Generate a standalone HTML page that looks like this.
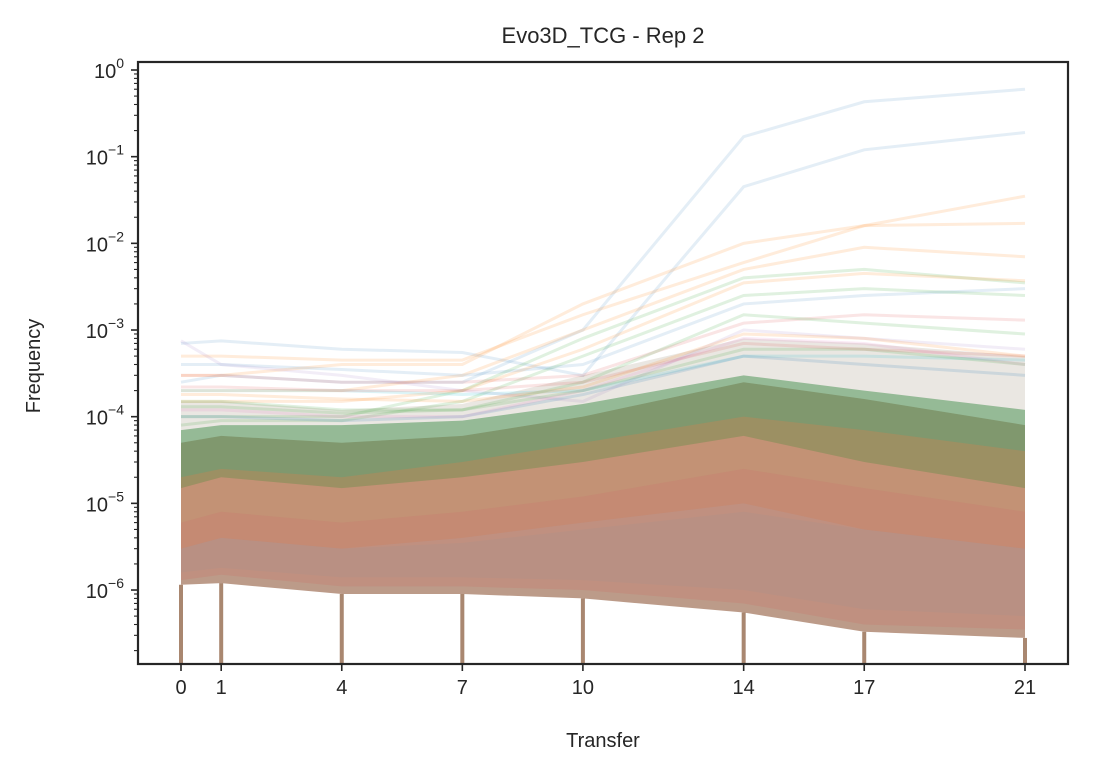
<!DOCTYPE html>
<html><head><meta charset="utf-8">
<style>
body{margin:0;background:#fff;font-family:"Liberation Sans",sans-serif;}
svg text{font-family:"Liberation Sans",sans-serif;fill:#262626;}
</style></head>
<body>
<svg id="chart" width="1094" height="774"></svg>
<script>
const transfers=[0,1,4,7,10,14,17,21];
const xTickLabels=["0","1","4","7","10","14","17","21"];
const yTickExps=[0,-1,-2,-3,-4,-5,-6];
// dense band layers: [top, bottom] per transfer
const bandBaseTop=[5e-5,6e-5,5e-5,6e-5,1e-4,2.5e-4,1.6e-4,8e-5];
const bandBaseBot=[1.15e-6,1.2e-6,9e-7,9e-7,8e-7,5.5e-7,3.3e-7,2.8e-7];
const bandPaleTop=[1.5e-4,1.5e-4,1.2e-4,1.4e-4,3e-4,8e-4,7e-4,5e-4];
const bandGreenTop=[7e-5,8e-5,8e-5,9e-5,1.4e-4,3e-4,2e-4,1.2e-4];
const bandGreenBot=[1.5e-5,2e-5,1.5e-5,2e-5,3e-5,6e-5,3e-5,1.5e-5];
const bandOrangeTop=[2e-5,2.5e-5,2e-5,3e-5,5e-5,1e-4,7e-5,4e-5];
const bandOrangeBot=[3e-6,4e-6,3e-6,4e-6,6e-6,1e-5,5e-6,3e-6];
const bandRedTop=[6e-6,8e-6,6e-6,8e-6,1.2e-5,2.5e-5,1.5e-5,8e-6];
const bandRedBot=[1.3e-6,1.5e-6,1.1e-6,1.1e-6,1e-6,7e-7,4e-7,3.5e-7];
const bandBlueTop=[3e-6,4e-6,3e-6,3.5e-6,5e-6,8e-6,5e-6,3e-6];
const bandBlueBot=[1.6e-6,1.8e-6,1.4e-6,1.4e-6,1.3e-6,1e-6,6e-7,5e-7];
// individual lineages
const lineBlue1=[2.5e-4,3e-4,2.5e-4,2.5e-4,1e-3,0.17,0.43,0.6];
const lineBlue2=[7e-4,7.5e-4,6e-4,5.5e-4,3e-4,0.045,0.12,0.19];
const lineOrange1=[3e-4,3e-4,4e-4,4e-4,2e-3,0.01,0.016,0.035];
const lineOrange2=[5e-4,5e-4,4.5e-4,4.5e-4,1.5e-3,0.006,0.016,0.017];
const lineOrange3=[2e-4,2e-4,2e-4,3e-4,1e-3,0.005,0.009,0.007];
const lineGreen1=[1e-4,1e-4,1e-4,2e-4,8e-4,0.004,0.005,0.0035];
const lineGreen2=[8e-5,9e-5,9e-5,1.5e-4,5e-4,0.0025,0.003,0.0025];
const lineOrange4=[1.5e-4,1.5e-4,1.5e-4,2e-4,6e-4,0.0035,0.0045,0.0037];
const lineBlue3=[4e-4,4e-4,3.5e-4,3e-4,4e-4,0.002,0.0025,0.003];
const linePurple1=[7.5e-4,4e-4,3e-4,2e-4,1.5e-4,1e-3,8e-4,6e-4];
const lineRed1=[3e-4,3e-4,2.5e-4,2.5e-4,3e-4,1.2e-3,1.5e-3,1.3e-3];
const lineGreen3=[1.5e-4,1.5e-4,1.2e-4,1.2e-4,2.5e-4,1.5e-3,1.2e-3,9e-4];
const linePink1=[1.2e-4,1.2e-4,1e-4,1e-4,2e-4,8e-4,7e-4,4e-4];
const lineCyan1=[2e-4,2e-4,2e-4,1.8e-4,2e-4,5e-4,5e-4,4.5e-4];
const lineGreen4=[1.3e-4,1.3e-4,1.1e-4,1.2e-4,2e-4,6e-4,6e-4,4e-4];
const lineRed2=[2.2e-4,2.2e-4,2e-4,2e-4,2.5e-4,7e-4,6e-4,5e-4];
const lineBlue4=[1e-4,1e-4,9e-5,1e-4,1.8e-4,5e-4,4e-4,3e-4];
const lineOrange5=[1.8e-4,1.8e-4,1.6e-4,1.5e-4,2.2e-4,9e-4,8e-4,5e-4];
const L=138,R=1068,T=62,B=664;
const x=t=>181+(t-0)*(1025-181)/21;
const y=v=>70+(0-Math.log10(v))*86.67;
const svg=document.getElementById('chart');
const NS='http://www.w3.org/2000/svg';
function mk(tag,attrs,parent){const e=document.createElementNS(NS,tag);for(const k in attrs)e.setAttribute(k,attrs[k]);(parent||svg).appendChild(e);return e;}
const clip=mk('clipPath',{id:'pc'});mk('rect',{x:L,y:T,width:R-L,height:B-T},clip);
const g=mk('g',{'clip-path':'url(#pc)'});
function band(top,bot,color,op,name){
  let d='M'+transfers.map((t,i)=>x(t)+','+y(top[i])).join('L');
  for(let i=transfers.length-1;i>=0;i--)d+='L'+x(transfers[i])+','+y(bot[i]);
  const p=mk('path',{d:d+'Z',fill:color,'fill-opacity':op},g);
  
  
}
band(bandPaleTop,bandBaseTop,'#b8b0a0',0.3,'band-faint-upper');
band(bandBaseTop,bandBaseBot,'#a67a62',0.75,'band-dense');
band(bandGreenTop,bandGreenBot,'#4f9658',0.55,'band-green');
band(bandOrangeTop,bandOrangeBot,'#d08050',0.35,'band-orange');
band(bandRedTop,bandRedBot,'#c87a70',0.35,'band-red');
band(bandBlueTop,bandBlueBot,'#a09090',0.2,'band-blue');
// vertical drops to zero at each transfer
transfers.forEach((t,i)=>{
  const l=mk('line',{x1:x(t),x2:x(t),y1:y(bandBaseBot[i]),y2:B,stroke:'#a07a60','stroke-width':4,'stroke-opacity':0.9},g);
  
  
});
function line(vals,color,op,name){
  const p=mk('path',{d:'M'+transfers.map((t,i)=>x(t)+','+y(vals[i])).join('L'),fill:'none',stroke:color,'stroke-opacity':op,'stroke-width':3},g);
  
  
}
line(lineBlue1,'#1f77b4',0.12,'lineage-blue-1');
line(lineBlue2,'#1f77b4',0.12,'lineage-blue-2');
line(lineOrange1,'#ff7f0e',0.15,'lineage-orange-1');
line(lineOrange2,'#ff7f0e',0.15,'lineage-orange-2');
line(lineOrange3,'#ff7f0e',0.15,'lineage-orange-3');
line(lineGreen1,'#2ca02c',0.15,'lineage-green-1');
line(lineGreen2,'#2ca02c',0.15,'lineage-green-2');
line(lineOrange4,'#ff7f0e',0.15,'lineage-orange-4');
line(lineBlue3,'#1f77b4',0.12,'lineage-blue-3');
line(linePurple1,'#9467bd',0.12,'lineage-purple-1');
line(lineRed1,'#d62728',0.12,'lineage-red-1');
line(lineGreen3,'#2ca02c',0.15,'lineage-green-3');
line(linePink1,'#e377c2',0.15,'lineage-pink-1');
line(lineCyan1,'#17becf',0.15,'lineage-cyan-1');
line(lineGreen4,'#2ca02c',0.15,'lineage-green-4');
line(lineRed2,'#d62728',0.12,'lineage-red-2');
line(lineBlue4,'#1f77b4',0.15,'lineage-blue-4');
line(lineOrange5,'#ff7f0e',0.15,'lineage-orange-5');
// axes frame
const fr=mk('rect',{x:L,y:T,width:R-L,height:B-T,fill:'none',stroke:'#262626','stroke-width':2.2});

// x ticks
transfers.forEach((t,i)=>{
  mk('line',{x1:x(t),x2:x(t),y1:B,y2:B+7,stroke:'#262626','stroke-width':1.6});
  const tx=mk('text',{x:x(t),y:B+30,'text-anchor':'middle','font-size':20});
  tx.textContent=xTickLabels[i];
  
});
// y ticks
yTickExps.forEach(e=>{
  const yy=y(Math.pow(10,e));
  mk('line',{x1:L,x2:L-7,y1:yy,y2:yy,stroke:'#262626','stroke-width':1.6});
  const tx=mk('text',{x:L-14,y:yy+8,'text-anchor':'end','font-size':20});
  tx.innerHTML='10<tspan dy="-10" font-size="14">'+(e<0?'\u2212'+(-e):e)+'</tspan>';
  
});
for(let e=-7;e<=0;e++)for(let m=2;m<=9;m++){
  const yy=y(m*Math.pow(10,e));
  if(yy>T&&yy<B)mk('line',{x1:L,x2:L-4,y1:yy,y2:yy,stroke:'#262626','stroke-width':1.1});
}
const title=mk('text',{x:603,y:43,'text-anchor':'middle','font-size':22});
title.textContent='Evo3D_TCG - Rep 2';

const xl=mk('text',{x:603,y:747,'text-anchor':'middle','font-size':20});
xl.textContent='Transfer';

const yl=mk('text',{x:40,y:366,'text-anchor':'middle','font-size':20,transform:'rotate(-90 40 366)'});
yl.textContent='Frequency';

</script>
</body></html>
